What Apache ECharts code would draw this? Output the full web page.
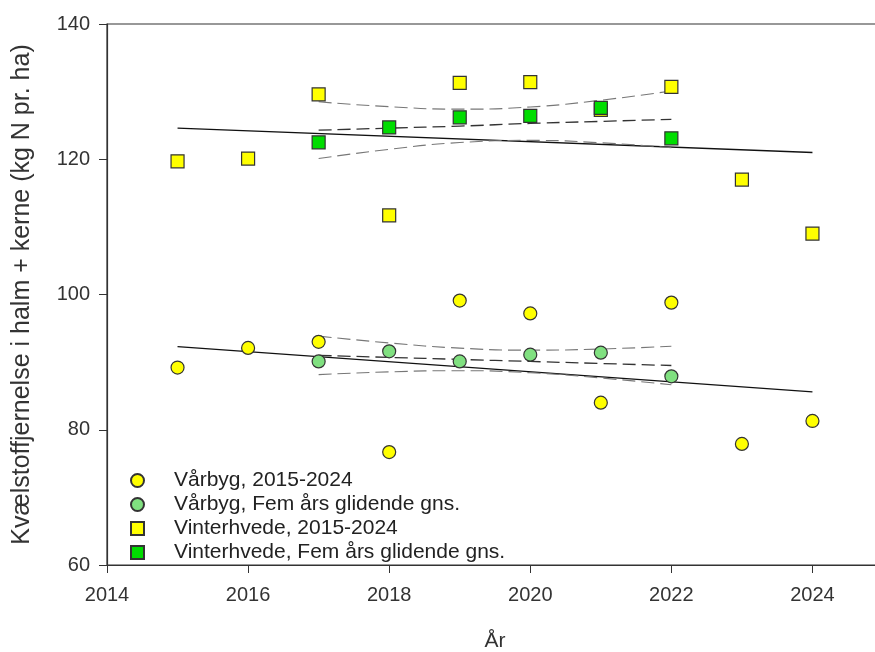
<!DOCTYPE html>
<html>
<head>
<meta charset="utf-8">
<script src="https://cdn.jsdelivr.net/npm/echarts@6/dist/echarts.min.js"></script>
<style>html,body{margin:0;padding:0;background:#fff}#c{width:875px;height:652px}</style>
</head>
<body>
<div id="c"></div>
<script>
var years = [2015, 2016, 2017, 2018, 2019, 2020, 2021, 2022, 2023, 2024];
var avgYears = [2017, 2018, 2019, 2020, 2021, 2022];
var vaarbyg = [89.2, 92.1, 93.0, 76.7, 99.1, 97.2, 84.0, 98.8, 77.9, 81.3];
var vaarbygAvg = [90.1, 91.6, 90.1, 91.1, 91.4, 87.9];
var vinter = [119.7, 120.1, 129.6, 111.7, 131.3, 131.4, 127.3, 130.7, 117.0, 109.0];
var vinterAvg = [122.5, 124.7, 126.2, 126.4, 127.6, 123.1];
// regression lines (read at 2015 and 2024)
var trendYears = [2015, 2024];
var vaarbygTrend = [92.3, 85.6];
var vinterTrend = [124.6, 121.0];
// regression of moving averages with confidence bands, read at each year
var vaarbygAvgFit = [91.0, 90.7, 90.4, 90.1, 89.8, 89.5];
var vaarbygAvgUp = [93.85, 92.84, 92.07, 91.77, 91.94, 92.35];
var vaarbygAvgLo = [88.15, 88.56, 88.73, 88.43, 87.66, 86.65];
var vinterAvgFit = [124.3, 124.6, 124.9, 125.3, 125.6, 125.9];
var vinterAvgUp = [128.5, 127.77, 127.41, 127.73, 128.73, 130.1];
var vinterAvgLo = [120.1, 121.47, 122.47, 122.79, 122.43, 121.7];
var xTicks = [2014, 2016, 2018, 2020, 2022, 2024];
var yTicks = [60, 80, 100, 120, 140];

var FONT = '"Liberation Sans", Arial, sans-serif';
function zip(xs, ys) { return xs.map(function (x, i) { return [x, ys[i]]; }); }

function lineSeries(name, xs, ys, color, dash, width) {
  return {
    name: name, type: 'line', data: zip(xs, ys), symbol: 'none', smooth: xs.length > 2 ? 0.5 : false,
    lineStyle: { color: color, width: width, type: dash ? [13, 6] : 'solid' },
    silent: true, z: 1, legendHoverLink: false
  };
}
function scatter(name, xs, ys, symbol, size, color, z) {
  return {
    name: name, type: 'scatter', data: zip(xs, ys), symbol: symbol, symbolSize: size,
    itemStyle: { color: color, borderColor: '#333', borderWidth: 1.2, opacity: 1 }, z: z
  };
}

var chart = echarts.init(document.getElementById('c'), null, { renderer: 'canvas' });
chart.setOption({
  animation: false,
  backgroundColor: '#fff',
  grid: { left: 107, top: 24, width: 776, height: 541, containLabel: false, outerBoundsMode: 'none',
    show: true, borderColor: '#333', borderWidth: 1.2, backgroundColor: 'transparent' },
  xAxis: {
    type: 'value', min: 2014, max: 2025, interval: 2,
    name: 'År', nameLocation: 'middle', nameGap: 66,
    nameTextStyle: { fontFamily: FONT, fontSize: 21, color: '#333' },
    axisLine: { show: true, lineStyle: { color: '#333', width: 1.2 } },
    axisTick: { show: true, inside: false, length: 8, lineStyle: { color: '#333' } },
    axisLabel: { fontFamily: FONT, fontSize: 20, color: '#333', margin: 20, showMaxLabel: false,
      formatter: function (v) { return xTicks.indexOf(v) >= 0 ? String(v) : ''; } },
    splitLine: { show: false }
  },
  yAxis: {
    type: 'value', min: 60, max: 140, interval: 20,
    name: 'Kvælstoffjernelse i halm + kerne (kg N pr. ha)', nameLocation: 'middle', nameGap: 72,
    nameTextStyle: { fontFamily: FONT, fontSize: 25, color: '#333' },
    axisLine: { show: true, lineStyle: { color: '#333', width: 1.2 } },
    axisTick: { show: true, inside: false, length: 8, lineStyle: { color: '#333' } },
    axisLabel: { fontFamily: FONT, fontSize: 20, color: '#333', margin: 17,
      formatter: function (v) { return yTicks.indexOf(v) >= 0 ? String(v) : ''; } },
    splitLine: { show: false }
  },
  legend: {
    orient: 'vertical', left: 125, top: 465, itemGap: 3, itemWidth: 13, itemHeight: 13,
    data: ['Vårbyg, 2015-2024', 'Vårbyg, Fem års glidende gns.', 'Vinterhvede, 2015-2024', 'Vinterhvede, Fem års glidende gns.'],
    textStyle: { fontFamily: FONT, fontSize: 21, color: '#222', padding: [0, 0, 0, 25] },
    selectedMode: false
  },
  series: [
    lineSeries('t1', trendYears, vaarbygTrend, '#111', false, 1.3),
    lineSeries('t2', trendYears, vinterTrend, '#111', false, 1.3),
    lineSeries('f1', avgYears, vaarbygAvgFit, '#333', true, 1.3),
    lineSeries('u1', avgYears, vaarbygAvgUp, '#777', true, 1.1),
    lineSeries('l1', avgYears, vaarbygAvgLo, '#777', true, 1.1),
    lineSeries('f2', avgYears, vinterAvgFit, '#333', true, 1.3),
    lineSeries('u2', avgYears, vinterAvgUp, '#777', true, 1.1),
    lineSeries('l2', avgYears, vinterAvgLo, '#777', true, 1.1),
    scatter('Vårbyg, 2015-2024', years, vaarbyg, 'circle', 13, '#FFFF00', 3),
    scatter('Vinterhvede, 2015-2024', years, vinter, 'rect', 13, '#FFFF00', 3),
    scatter('Vårbyg, Fem års glidende gns.', avgYears, vaarbygAvg, 'circle', 13, '#80E080', 4),
    scatter('Vinterhvede, Fem års glidende gns.', avgYears, vinterAvg, 'rect', 13, '#00DD00', 4)
  ]
});
</script>
</body>
</html>
